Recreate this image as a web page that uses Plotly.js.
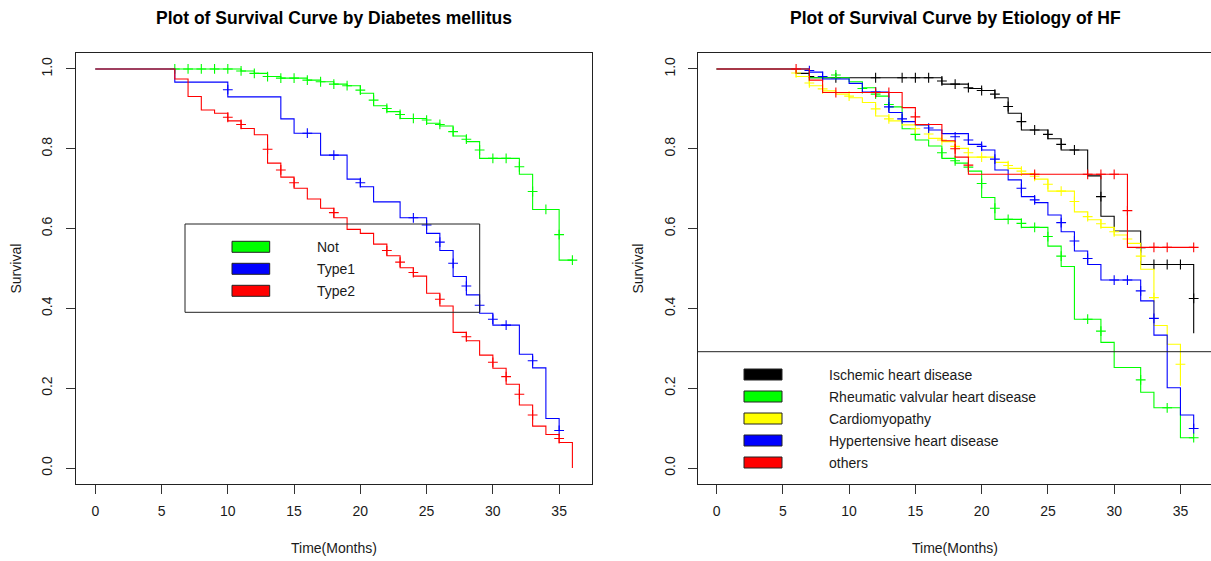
<!DOCTYPE html>
<html>
<head>
<meta charset="utf-8">
<script src="https://cdn.plot.ly/plotly-3.0.1.min.js"></script>
<style>
  html, body { margin: 0; padding: 0; background: #ffffff; }
  #chart { width: 1211px; height: 561px; }
</style>
</head>
<body>
<div id="chart"></div>
<script>
// ---- Kaplan-Meier estimates by diabetes mellitus status ----
const dmGroups = ["Not", "Type1", "Type2"];
const dmColors = ["#00ff00", "#0000ff", "#ff0000"];

const dmNotTime = [0, 11, 12, 13, 14, 16, 17, 18, 19, 20, 21, 22, 23, 25, 26, 27, 28, 29, 32, 33, 35, 36];
const dmNotSurv = [1, 0.995, 0.989, 0.981, 0.977, 0.972, 0.968, 0.962, 0.958, 0.939, 0.908, 0.893, 0.876, 0.864, 0.857, 0.832, 0.818, 0.776, 0.736, 0.648, 0.521, 0.521];
const dmNotCensTime = [6, 7, 8, 9, 10, 11, 12, 13, 14, 15, 16, 17, 18, 19, 20, 21, 22, 23, 24, 25, 26, 27, 28, 29, 30, 31, 32, 33, 34, 35, 36];
const dmNotCensSurv = [1, 1, 1, 1, 1, 0.995, 0.989, 0.981, 0.977, 0.977, 0.972, 0.968, 0.962, 0.958, 0.947, 0.922, 0.901, 0.886, 0.876, 0.872, 0.861, 0.843, 0.824, 0.797, 0.776, 0.776, 0.755, 0.693, 0.648, 0.585, 0.521];

const dmT1Time = [0, 6, 10, 14, 15, 17, 19, 20, 21, 23, 25, 26, 27, 28, 29, 30, 32, 33, 34, 35];
const dmT1Surv = [1, 0.967, 0.930, 0.875, 0.839, 0.784, 0.724, 0.705, 0.667, 0.627, 0.588, 0.545, 0.480, 0.434, 0.388, 0.358, 0.285, 0.251, 0.124, 0.094];
const dmT1CensTime = [10, 16, 18, 20, 24, 25, 26, 27, 28, 29, 30, 31, 33, 35];
const dmT1CensSurv = [0.948, 0.839, 0.784, 0.715, 0.627, 0.609, 0.566, 0.513, 0.456, 0.408, 0.373, 0.358, 0.269, 0.094];

const dmT2Time = [0, 6, 7, 8, 9, 10, 11, 12, 13, 14, 15, 16, 17, 18, 19, 20, 21, 22, 23, 24, 25, 26, 27, 28, 29, 30, 31, 32, 33, 34, 35, 36];
const dmT2Surv = [1, 0.975, 0.931, 0.897, 0.889, 0.870, 0.851, 0.835, 0.764, 0.729, 0.701, 0.674, 0.651, 0.627, 0.598, 0.588, 0.561, 0.532, 0.502, 0.481, 0.438, 0.406, 0.340, 0.319, 0.283, 0.250, 0.210, 0.158, 0.105, 0.084, 0.064, 0.0];
const dmT2CensTime = [10, 11, 13, 14, 15, 18, 22, 23, 24, 26, 28, 30, 31, 32, 33, 35];
const dmT2CensSurv = [0.879, 0.861, 0.799, 0.747, 0.715, 0.640, 0.545, 0.516, 0.490, 0.423, 0.329, 0.265, 0.229, 0.185, 0.133, 0.074];

// ---- Kaplan-Meier estimates by etiology of heart failure ----
const hfGroups = ["Ischemic heart disease", "Rheumatic valvular heart disease", "Cardiomyopathy", "Hypertensive heart disease", "others"];
const hfColors = ["#000000", "#00ff00", "#ffff00", "#0000ff", "#ff0000"];

const hfIschTime = [0, 6, 7, 17, 19, 20, 21, 22, 23, 25, 26, 28, 29, 30, 32, 36];
const hfIschSurv = [1, 0.989, 0.978, 0.962, 0.951, 0.946, 0.928, 0.889, 0.847, 0.825, 0.797, 0.732, 0.631, 0.594, 0.510, 0.338];
const hfIschCensTime = [7, 9, 12, 14, 15, 16, 17, 18, 19, 20, 21, 22, 23, 24, 25, 26, 27, 29, 32, 33, 34, 35, 36];
const hfIschCensSurv = [0.981, 0.978, 0.978, 0.978, 0.978, 0.978, 0.970, 0.962, 0.953, 0.946, 0.937, 0.906, 0.868, 0.847, 0.836, 0.811, 0.797, 0.680, 0.552, 0.510, 0.510, 0.510, 0.425];

const hfRheuTime = [0, 7, 10, 11, 12, 13, 14, 15, 16, 17, 18, 19, 20, 21, 23, 25, 26, 27, 29, 30, 32, 33, 35, 36];
const hfRheuSurv = [1, 0.978, 0.968, 0.953, 0.932, 0.905, 0.850, 0.822, 0.807, 0.776, 0.764, 0.744, 0.678, 0.623, 0.603, 0.556, 0.505, 0.373, 0.315, 0.252, 0.190, 0.151, 0.076, 0.076];
const hfRheuCensTime = [9, 11, 12, 13, 15, 17, 18, 19, 20, 21, 22, 23, 24, 25, 26, 28, 29, 32, 34, 36];
const hfRheuCensSurv = [0.985, 0.951, 0.937, 0.911, 0.836, 0.790, 0.770, 0.754, 0.713, 0.651, 0.623, 0.613, 0.603, 0.580, 0.531, 0.373, 0.343, 0.221, 0.151, 0.076];

const hfCardTime = [0, 6, 7, 8, 9, 10, 11, 12, 13, 14, 16, 17, 18, 19, 21, 22, 23, 24, 25, 27, 28, 29, 30, 31, 32, 33, 34, 35];
const hfCardSurv = [1, 0.981, 0.958, 0.945, 0.937, 0.928, 0.916, 0.882, 0.870, 0.860, 0.826, 0.818, 0.801, 0.779, 0.766, 0.751, 0.738, 0.724, 0.694, 0.642, 0.622, 0.603, 0.584, 0.563, 0.498, 0.357, 0.310, 0.206];
const hfCardCensTime = [6, 7, 8, 10, 12, 13, 15, 16, 17, 18, 19, 20, 22, 23, 24, 25, 26, 27, 28, 29, 30, 31, 32, 33, 35];
const hfCardCensSurv = [0.990, 0.965, 0.950, 0.932, 0.900, 0.875, 0.850, 0.837, 0.822, 0.806, 0.790, 0.779, 0.758, 0.744, 0.731, 0.711, 0.694, 0.668, 0.630, 0.612, 0.592, 0.574, 0.531, 0.427, 0.260];

const hfHypTime = [0, 7, 8, 10, 11, 13, 14, 15, 16, 17, 19, 20, 21, 22, 23, 24, 25, 26, 27, 28, 29, 32, 33, 34, 35, 36];
const hfHypSurv = [1, 0.992, 0.975, 0.964, 0.942, 0.891, 0.868, 0.860, 0.847, 0.838, 0.811, 0.797, 0.747, 0.722, 0.680, 0.665, 0.634, 0.592, 0.544, 0.510, 0.471, 0.419, 0.333, 0.201, 0.133, 0.099];
const hfHypCensTime = [7, 8, 12, 13, 14, 16, 18, 19, 20, 21, 23, 24, 26, 27, 28, 30, 31, 32, 33, 36];
const hfHypCensSurv = [0.996, 0.981, 0.942, 0.905, 0.875, 0.852, 0.830, 0.822, 0.806, 0.774, 0.701, 0.672, 0.615, 0.569, 0.525, 0.471, 0.471, 0.444, 0.375, 0.099];

const hfOthTime = [0, 7, 8, 14, 15, 17, 18, 19, 31, 36];
const hfOthSurv = [1, 0.972, 0.941, 0.903, 0.861, 0.820, 0.779, 0.736, 0.553, 0.553];
const hfOthCensTime = [6, 9, 12, 13, 15, 18, 19, 24, 28, 29, 30, 31, 33, 34, 36];
const hfOthCensSurv = [1.0, 0.941, 0.941, 0.941, 0.880, 0.800, 0.759, 0.736, 0.736, 0.736, 0.736, 0.645, 0.553, 0.553, 0.553];

// ---- axis ticks ----
const timeTicks = [0, 5, 10, 15, 20, 25, 30, 35];
const survTicks = [0, 0.2, 0.4, 0.6, 0.8, 1.0];

// ---- page geometry (pixels) ----
const W = 1211, H = 561;
const px = v => v / W;           // pixel x -> paper x
const py = v => 1 - v / H;       // pixel y -> paper y
const FONT = "Liberation Sans, Arial, sans-serif";
const TEXT = "#1a1a1a";

const dmCurves = [
  [dmNotTime, dmNotSurv, dmNotCensTime, dmNotCensSurv],
  [dmT1Time, dmT1Surv, dmT1CensTime, dmT1CensSurv],
  [dmT2Time, dmT2Surv, dmT2CensTime, dmT2CensSurv]
];
const hfCurves = [
  [hfIschTime, hfIschSurv, hfIschCensTime, hfIschCensSurv],
  [hfRheuTime, hfRheuSurv, hfRheuCensTime, hfRheuCensSurv],
  [hfCardTime, hfCardSurv, hfCardCensTime, hfCardCensSurv],
  [hfHypTime, hfHypSurv, hfHypCensTime, hfHypCensSurv],
  [hfOthTime, hfOthSurv, hfOthCensTime, hfOthCensSurv]
];

function kmTraces(curves, colors, names, xa, ya) {
  const out = [];
  curves.forEach((c, i) => {
    out.push({
      x: c[0], y: c[1], xaxis: xa, yaxis: ya, name: names[i],
      type: "scatter", mode: "lines",
      line: { color: colors[i], width: 1.1, shape: "hv" },
      hoverinfo: "skip", showlegend: false
    });
    out.push({
      x: c[2], y: c[3], xaxis: xa, yaxis: ya, name: names[i] + " (censored)",
      type: "scatter", mode: "markers",
      marker: { symbol: "cross-thin", size: 7, color: colors[i], line: { color: colors[i], width: 1.1 } },
      hoverinfo: "skip", showlegend: false
    });
  });
  return out;
}

const traces = kmTraces(dmCurves, dmColors, dmGroups, "x", "y")
  .concat(kmTraces(hfCurves, hfColors, hfGroups, "x2", "y2"));

// plot boxes in pixels
const leftBox = { x0: 76.2, x1: 591.5 };
const rightBox = { x0: 697.5, x1: 1211 };
const boxTop = 53, boxBottom = 484;
const monthPx = 13.253;

function xAxisDef(box, anchor) {
  return {
    domain: [px(box.x0), px(box.x1)],
    range: [-1.44, -1.44 + (box.x1 - box.x0) / monthPx],
    anchor: anchor, tickvals: timeTicks, ticks: "outside", ticklen: 9,
    tickcolor: "#333", tickwidth: 1, showline: true, linecolor: "#222", linewidth: 1,
    mirror: true, showgrid: false, zeroline: false, fixedrange: true,
    tickfont: { family: FONT, size: 14, color: TEXT }, ticklabelstandoff: 5
  };
}
function yAxisDef(anchor, mirror, standoff) {
  return {
    domain: [py(boxBottom), py(boxTop)], range: [-0.04, 1.04], anchor: anchor,
    tickvals: survTicks, tickformat: ".1f", tickangle: -90, ticks: "outside", ticklen: 9,
    tickcolor: "#333", tickwidth: 1, showline: true, linecolor: "#222", linewidth: 1,
    mirror: mirror, showgrid: false, zeroline: false, fixedrange: true,
    tickfont: { family: FONT, size: 14, color: TEXT }, ticklabelstandoff: standoff
  };
}

const shapes = [];
const annotations = [];

function label(text, xPix, yPix, opts) {
  annotations.push(Object.assign({
    text: text, xref: "paper", yref: "paper", x: px(xPix), y: py(yPix),
    showarrow: false, xanchor: "center", yanchor: "middle", borderpad: 0,
    font: { family: FONT, size: 14, color: TEXT }
  }, opts || {}));
}

// panel titles and axis titles
const titleFont = { family: FONT, size: 17.5, color: "#000", weight: 700 };
label("Plot of Survival Curve by Diabetes mellitus", (leftBox.x0 + leftBox.x1) / 2, 18, { font: titleFont });
label("Plot of Survival Curve by Etiology of HF", (rightBox.x0 + 1212.5) / 2, 18, { font: titleFont });
label("Time(Months)", (leftBox.x0 + leftBox.x1) / 2, 548);
label("Time(Months)", (rightBox.x0 + 1212.5) / 2, 548);
label("Survival", 15, (boxTop + boxBottom) / 2, { textangle: -90 });
label("Survival", 637, (boxTop + boxBottom) / 2, { textangle: -90 });

// legend for the diabetes panel
shapes.push({ type: "rect", xref: "paper", yref: "paper",
  x0: px(185), x1: px(479.7), y0: py(224), y1: py(312.3), line: { color: "#222", width: 1 } });
dmGroups.forEach((g, i) => {
  const cy = 246.8 + i * 22;
  shapes.push({ type: "rect", xref: "paper", yref: "paper",
    x0: px(232), x1: px(269.7), y0: py(cy - 5.5), y1: py(cy + 5.5),
    fillcolor: dmColors[i], line: { color: "#222", width: 1 } });
  label(g, 315.5, cy, { xanchor: "left" });
});

// legend for the etiology panel (box runs along the panel's bottom-left)
shapes.push({ type: "line", xref: "paper", yref: "paper",
  x0: px(rightBox.x0), x1: 1, y0: py(351.7), y1: py(351.7), line: { color: "#222", width: 1 } });
hfGroups.forEach((g, i) => {
  const cy = 374.5 + i * 22;
  shapes.push({ type: "rect", xref: "paper", yref: "paper",
    x0: px(744), x1: px(782), y0: py(cy - 5.5), y1: py(cy + 5.5),
    fillcolor: hfColors[i], line: { color: "#222", width: 1 } });
  label(g, 827.5, cy, { xanchor: "left" });
});

const layout = {
  width: W, height: H,
  margin: { l: 0, r: 0, t: 0, b: 0, pad: 0 },
  paper_bgcolor: "#ffffff", plot_bgcolor: "#ffffff",
  showlegend: false,
  xaxis: xAxisDef(leftBox, "y"),
  yaxis: yAxisDef("x", true, 9),
  xaxis2: xAxisDef(rightBox, "y2"),
  yaxis2: yAxisDef("x2", false, 7),
  shapes: shapes,
  annotations: annotations
};

Plotly.newPlot("chart", traces, layout, { displayModeBar: false, staticPlot: true });
</script>
</body>
</html>
